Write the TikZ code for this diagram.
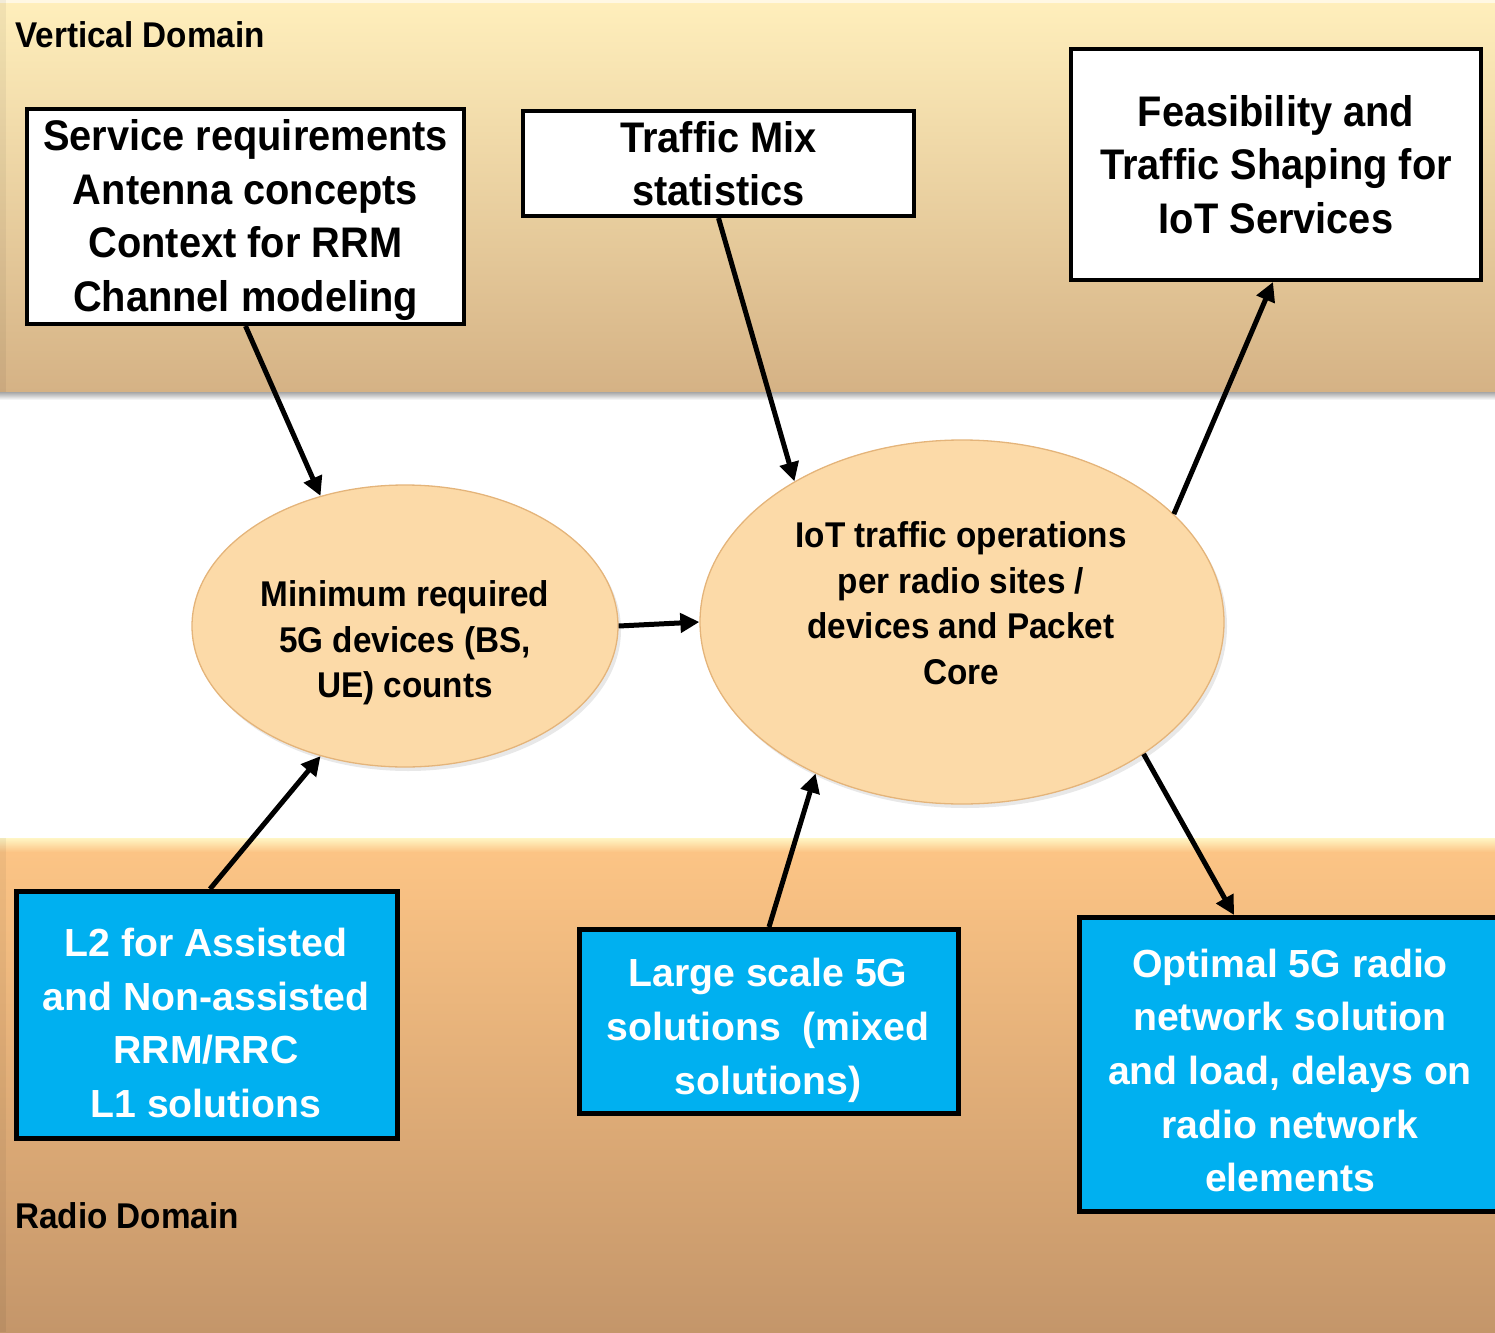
\documentclass[tikz,border=0pt]{standalone}
\usepackage{fontspec}
\setmainfont{Liberation Sans}
\newfontfamily\cond[FakeStretch=0.93]{Liberation Sans}
\usetikzlibrary{shapes.geometric,arrows.meta,shadows}
\definecolor{topA}{RGB}{255,239,188}
\definecolor{topB}{RGB}{213,178,133}
\definecolor{botA}{RGB}{252,196,133}
\definecolor{botB}{RGB}{196,150,106}
\definecolor{paleY}{RGB}{255,246,196}
\definecolor{blueF}{RGB}{0,176,240}
\definecolor{ovalF}{RGB}{252,218,168}
\definecolor{ovalB}{RGB}{228,180,122}
\begin{document}
\begin{tikzpicture}[x=1pt,y=-1pt,
  whitebox/.style={draw=black, line width=4pt, fill=white, align=center, inner sep=0pt,
    font=\cond\bfseries\fontsize{42.8}{53.5}\selectfont},
  whitetext/.style={align=center, inner sep=0pt,
    font=\cond\bfseries\fontsize{42.8}{53.5}\selectfont},
  bluebox/.style={draw=black, line width=5pt, fill=blueF, inner sep=0pt},
  bluetext/.style={text=white, align=center, inner sep=0pt,
    font=\bfseries\fontsize{39.2}{53.7}\selectfont},
  oval/.style={ellipse, draw=ovalB, line width=1.3pt, fill=ovalF, inner sep=0pt,
    drop shadow={opacity=0.18, shadow xshift=3pt, shadow yshift=-4pt}},
  ovaltext/.style={align=center, inner sep=0pt, font=\cond\bfseries\fontsize{35.8}{45.5}\selectfont},
  arr/.style={line width=5pt, -{Triangle[length=19pt,width=19pt]}},
  lbl/.style={anchor=base west, inner sep=0pt, font=\cond\bfseries\fontsize{35.8}{42}\selectfont}]
\useasboundingbox (0,0) rectangle (1495,1332);
% bands
\shade[top color=topA, bottom color=topB] (0,0) rectangle (1495,392);
\fill[white, opacity=0.6] (0,0) rectangle (1495,3);
\shade[top color=black!35, bottom color=white] (0,392) rectangle (1495,400);
\shade[top color=paleY, bottom color=botA] (0,838) rectangle (1495,852);
\shade[top color=botA, bottom color=botB] (0,852) rectangle (1495,1332);
\fill[black, opacity=0.05] (0,0) rectangle (6,392);
\fill[black, opacity=0.05] (0,838) rectangle (6,1332);
% labels
\node[lbl] (vd) at (15,48) {Vertical Domain};
\node[lbl] (rd) at (15,1228) {Radio Domain};
% white boxes
\node[whitebox, minimum width=437pt, minimum height=215pt] (svc) at (245.5,216.5) {};
\node[whitetext] (svct) at (245.5,220)
  {Service requirements\\Antenna concepts\\Context for RRM\\Channel modeling};
\node[whitebox, minimum width=391pt, minimum height=105pt] (mix) at (718.5,163.5)
  {Traffic Mix\\statistics};
\node[whitebox, minimum width=410pt, minimum height=231pt] (feas) at (1276,164.5)
  {Feasibility and\\Traffic Shaping for\\IoT Services};
% blue boxes
\node[bluebox, minimum width=381pt, minimum height=247pt] (l2) at (207,1015) {};
\node[bluetext] (l2t) at (206,1023)
  {L2 for Assisted\\and Non-assisted\\RRM/RRC\\L1 solutions};
\node[bluebox, minimum width=379pt, minimum height=184pt] (lss) at (769,1021.5) {};
\node[bluetext] (lsst) at (768,1030.5)
  {Large scale 5G\\solutions\ \ (mixed\\solutions)};
\node[bluebox, minimum width=421pt, minimum height=294pt] (opt) at (1290,1064.5) {};
\node[bluetext] (optt) at (1290,1070.5)
  {Optimal 5G radio\\network solution\\and load, delays on\\radio network\\elements};
% ellipses
\node[oval, minimum width=426pt, minimum height=282pt] (e1) at (405,626) {};
\node[ovaltext] (t1) at (405,643) {Minimum required\\5G devices (BS,\\UE) counts};
\node[oval, minimum width=524pt, minimum height=364pt] (e2) at (962,622) {};
\node[ovaltext] (t2) at (961,603) {IoT traffic operations\\per radio sites /\\devices and Packet\\Core};
% arrows
\draw[arr] (svc.south) -- (e1.123.7);
\draw[arr] (mix.south) -- (e2.140.2);
\draw[arr] (e1.0) -- (e2.180);
\draw[arr] ([xshift=3pt]l2.north) -- (e1.237.6);
\draw[arr] (lss.north) -- (e2.226.8);
\draw[arr] (e2.27.4) -- ([xshift=-3pt]feas.south);
\draw[arr] (e2.-36.3) -- ([xshift=-56pt]opt.north);
\end{tikzpicture}
\end{document}
